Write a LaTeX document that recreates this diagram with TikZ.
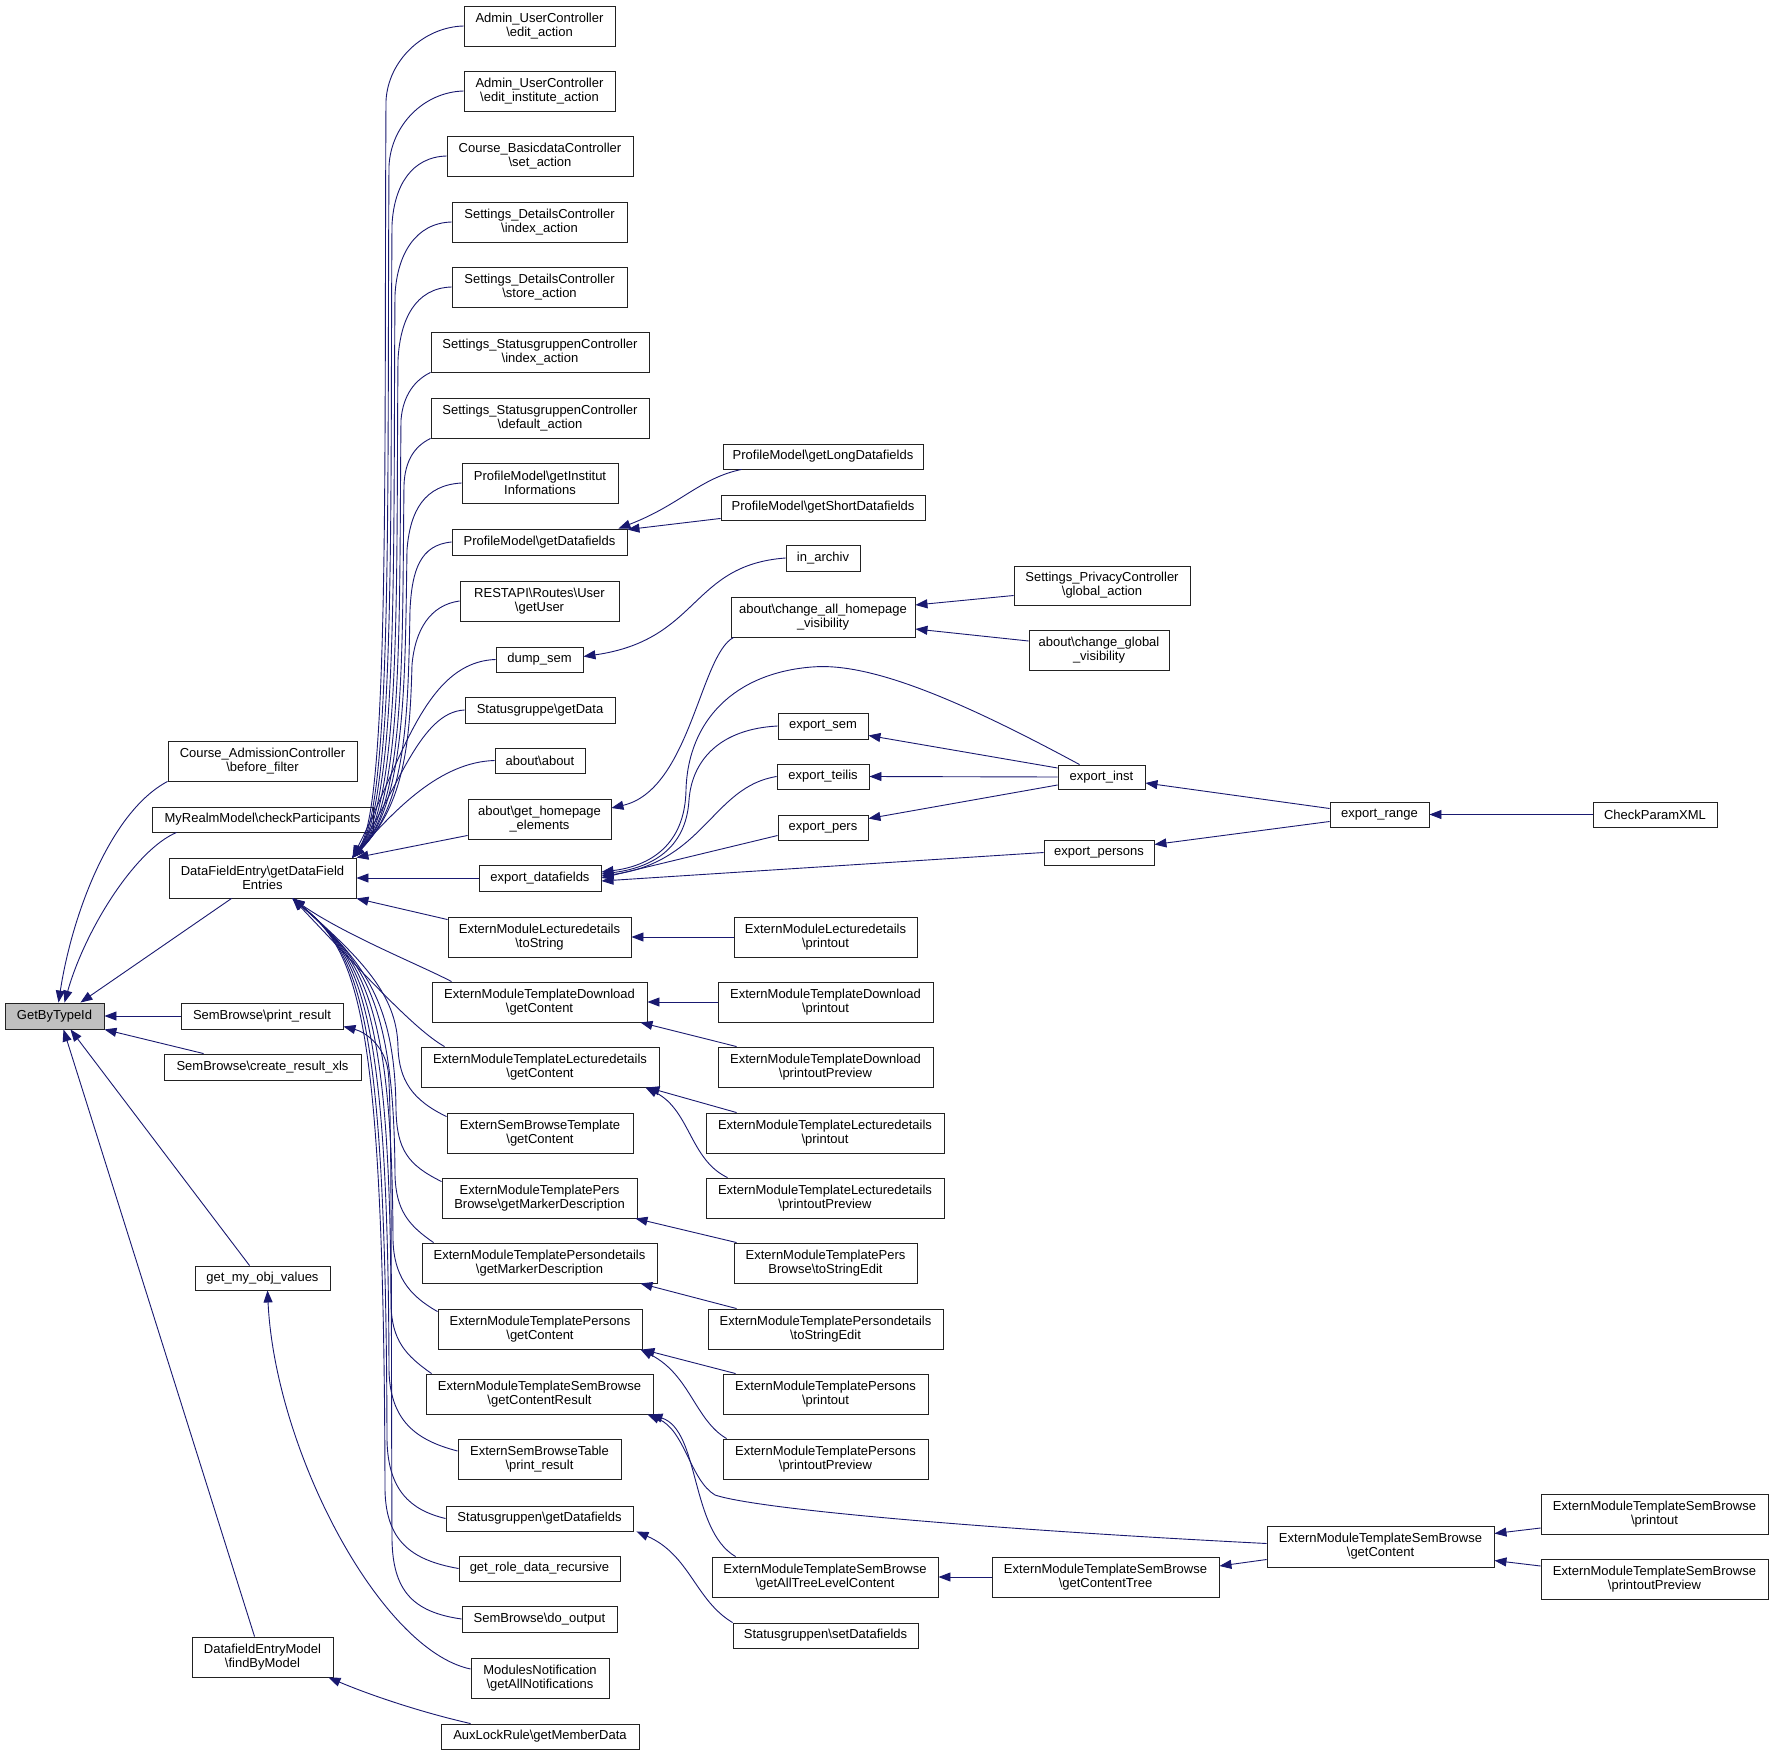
\documentclass[tikz,border=0pt]{standalone}
\usepackage{fontspec}
\setmainfont{Liberation Sans}
\usetikzlibrary{arrows.meta,calc}
\newcommand\bsl{\textbackslash}
\definecolor{edgecol}{HTML}{191970}
\definecolor{boxcol}{HTML}{222222}
\newcommand\mybox[6]{%
 \pgfmathsetmacro\bxw{#4-#2}\pgfmathsetmacro\bxh{#5-#3}%
 \pgfmathsetmacro\bxcx{(#2+#4)/2}\pgfmathsetmacro\bxcy{(#3+#5)/2}%
 \node[bx,minimum width=\bxw pt,minimum height=\bxh pt] (#1) at (\bxcx,\bxcy) {#6};}
\begin{document}
\begin{tikzpicture}[x=1pt,y=-1pt,
  bx/.style={draw=boxcol,line width=0.9pt,inner sep=0pt,align=center,fill=white,
    font=\fontsize{13}{14}\selectfont},
  ed/.style={draw=edgecol,line width=0.9pt,-{Triangle[length=12pt,width=9pt]}}]
\fill[white] (0,0) rectangle (1773,1755);
\useasboundingbox (0,0) rectangle (1773,1755);

% column 0
\node[bx,fill=gray!50,minimum width=99pt,minimum height=26pt] (G) at (54.5,1016) {GetByTypeId};
% column 1
\mybox{cadm}{168}{741}{357}{781}{Course\_AdmissionController\\\bsl before\_filter}
\mybox{myrealm}{152}{807}{373}{832}{MyRealmModel\bsl checkParticipants}
\mybox{dfe}{169}{858}{356}{898}{DataFieldEntry\bsl getDataField\\Entries}
\mybox{sbpr}{181}{1003}{343}{1029}{SemBrowse\bsl print\_result}
\mybox{sbxls}{164}{1054}{361}{1080}{SemBrowse\bsl create\_result\_xls}
\mybox{gmov}{195}{1266}{330}{1290}{get\_my\_obj\_values}
\mybox{dfem}{192}{1637}{333}{1677}{DatafieldEntryModel\\\bsl findByModel}
% column 2
\mybox{a1}{464}{6}{615}{46}{Admin\_UserController\\\bsl edit\_action}
\mybox{a2}{464}{71}{615}{111}{Admin\_UserController\\\bsl edit\_institute\_action}
\mybox{a3}{447}{136}{633}{176}{Course\_BasicdataController\\\bsl set\_action}
\mybox{a4}{452}{202}{627}{242}{Settings\_DetailsController\\\bsl index\_action}
\mybox{a5}{452}{267}{627}{307}{Settings\_DetailsController\\\bsl store\_action}
\mybox{a6}{431}{332}{649}{372}{Settings\_StatusgruppenController\\\bsl index\_action}
\mybox{a7}{431}{398}{649}{438}{Settings\_StatusgruppenController\\\bsl default\_action}
\mybox{a8}{462}{463}{618}{503}{ProfileModel\bsl getInstitut\\Informations}
\mybox{a9}{452}{529}{627}{555}{ProfileModel\bsl getDatafields}
\mybox{a10}{460}{581}{619}{621}{RESTAPI\bsl Routes\bsl User\\\bsl getUser}
\mybox{a11}{496}{647}{583}{672}{dump\_sem}
\mybox{a12}{465}{697}{615}{723}{Statusgruppe\bsl getData}
\mybox{a13}{495}{748}{585}{773}{about\bsl about}
\mybox{a14}{468}{799}{611}{839}{about\bsl get\_homepage\\\_elements}
\mybox{a15}{479}{865}{601}{891}{export\_datafields}
\mybox{a16}{448}{917}{631}{957}{ExternModuleLecturedetails\\\bsl toString}
\mybox{a17}{432}{982}{647}{1022}{ExternModuleTemplateDownload\\\bsl getContent}
\mybox{a18}{421}{1047}{659}{1087}{ExternModuleTemplateLecturedetails\\\bsl getContent}
\mybox{a19}{447}{1113}{633}{1153}{ExternSemBrowseTemplate\\\bsl getContent}
\mybox{a20}{442}{1178}{637}{1218}{ExternModuleTemplatePers\\Browse\bsl getMarkerDescription}
\mybox{a21}{422}{1243}{657}{1283}{ExternModuleTemplatePersondetails\\\bsl getMarkerDescription}
\mybox{a22}{438}{1309}{642}{1349}{ExternModuleTemplatePersons\\\bsl getContent}
\mybox{a23}{426}{1374}{653}{1414}{ExternModuleTemplateSemBrowse\\\bsl getContentResult}
\mybox{a24}{458}{1439}{621}{1479}{ExternSemBrowseTable\\\bsl print\_result}
\mybox{a25}{446}{1506}{633}{1531}{Statusgruppen\bsl getDatafields}
\mybox{a26}{459}{1556}{620}{1581}{get\_role\_data\_recursive}
\mybox{a27}{462}{1606}{617}{1632}{SemBrowse\bsl do\_output}
\mybox{a28}{471}{1658}{609}{1698}{ModulesNotification\\\bsl getAllNotifications}
\mybox{a29}{441}{1724}{639}{1749}{AuxLockRule\bsl getMemberData}
% column 3
\mybox{b1}{723}{444}{923}{469}{ProfileModel\bsl getLongDatafields}
\mybox{b2}{721}{495}{925}{520}{ProfileModel\bsl getShortDatafields}
\mybox{b3}{786}{545}{860}{571}{in\_archiv}
\mybox{b4}{731}{597}{915}{637}{about\bsl change\_all\_homepage\\\_visibility}
\mybox{b5}{778}{713}{868}{739}{export\_sem}
\mybox{b6}{777}{764}{869}{789}{export\_teilis}
\mybox{b7}{778}{815}{868}{840}{export\_pers}
\mybox{b8}{734}{917}{917}{957}{ExternModuleLecturedetails\\\bsl printout}
\mybox{b9}{718}{982}{933}{1022}{ExternModuleTemplateDownload\\\bsl printout}
\mybox{b10}{718}{1047}{933}{1087}{ExternModuleTemplateDownload\\\bsl printoutPreview}
\mybox{b11}{706}{1113}{944}{1153}{ExternModuleTemplateLecturedetails\\\bsl printout}
\mybox{b12}{706}{1178}{944}{1218}{ExternModuleTemplateLecturedetails\\\bsl printoutPreview}
\mybox{b13}{734}{1243}{917}{1283}{ExternModuleTemplatePers\\Browse\bsl toStringEdit}
\mybox{b14}{708}{1309}{943}{1349}{ExternModuleTemplatePersondetails\\\bsl toStringEdit}
\mybox{b15}{723}{1374}{928}{1414}{ExternModuleTemplatePersons\\\bsl printout}
\mybox{b16}{723}{1439}{928}{1479}{ExternModuleTemplatePersons\\\bsl printoutPreview}
\mybox{b17}{712}{1557}{938}{1597}{ExternModuleTemplateSemBrowse\\\bsl getAllTreeLevelContent}
\mybox{b18}{733}{1623}{918}{1648}{Statusgruppen\bsl setDatafields}
% column 4
\mybox{c1}{1014}{566}{1190}{605}{Settings\_PrivacyController\\\bsl global\_action}
\mybox{c2}{1029}{630}{1169}{670}{about\bsl change\_global\\\_visibility}
\mybox{c3}{1058}{765}{1145}{789}{export\_inst}
\mybox{c4}{1044}{840}{1154}{865}{export\_persons}
\mybox{c5}{992}{1557}{1219}{1597}{ExternModuleTemplateSemBrowse\\\bsl getContentTree}
% column 5
\mybox{d1}{1330}{802}{1429}{827}{export\_range}
\mybox{d2}{1267}{1526}{1494}{1567}{ExternModuleTemplateSemBrowse\\\bsl getContent}
% column 6
\mybox{e1}{1593}{802}{1717}{827}{CheckParamXML}
\mybox{e2}{1541}{1494}{1768}{1534}{ExternModuleTemplateSemBrowse\\\bsl printout}
\mybox{e3}{1541}{1559}{1768}{1599}{ExternModuleTemplateSemBrowse\\\bsl printoutPreview}

% ---------- edges into GetByTypeId
\draw[ed] (cadm.south west) .. controls (110,812) and (72,915) .. ($(G.north)+(4,0)$);
\draw[ed] ($(myrealm.south west)+(25,0)$) .. controls (135,850) and (85,930) .. ($(G.north)+(10,0)$);
\draw[ed] ($(dfe.south west)+(63,0)$) -- ($(G.north east)+(-24,0)$);
\draw[ed] (sbpr.west) -- (G.east);
\draw[ed] ($(sbxls.north west)+(40,0)$) -- (G.south east);
\draw[ed] ($(gmov.north west)+(55,0)$) -- ($(G.south)+(16,0)$);
\draw[ed] ($(dfem.north west)+(63,0)$) -- ($(G.south)+(9,0)$);

% ---------- edges into getDataFieldEntries (top)
\coordinate (E1) at ($(dfe.north east)+(-4,0)$);
\coordinate (E2) at ($(dfe.south)+(30,0)$);
\draw[ed] (a1.west) .. controls (424,27) and (388,60) .. (386,101) .. controls (384,450) and (390,805) .. (E1);
\draw[ed] (a2.west) .. controls (424,92) and (391,125) .. (389,166) .. controls (387,490) and (393,805) .. (E1);
\draw[ed] (a3.west) .. controls (412,157) and (394,185) .. (392,225) .. controls (390,520) and (396,805) .. (E1);
\draw[ed] (a4.west) .. controls (415,223) and (397,255) .. (395,295) .. controls (393,550) and (399,805) .. (E1);
\draw[ed] (a5.west) .. controls (415,288) and (400,320) .. (398,360) .. controls (396,580) and (402,805) .. (E1);
\draw[ed] (a6.south west) .. controls (415,380) and (403,395) .. (401,420) .. controls (399,620) and (404,805) .. (E1);
\draw[ed] (a7.south west) .. controls (415,446) and (405,460) .. (404,485) .. controls (402,650) and (406,805) .. (E1);
\draw[ed] (a8.west) .. controls (425,485) and (410,510) .. (407,550) .. controls (405,680) and (406,805) .. (E1);
\draw[ed] (a9.west) .. controls (420,545) and (412,570) .. (410,610) .. controls (408,720) and (406,805) .. (E1);
\draw[ed] (a10.west) .. controls (430,605) and (415,630) .. (412,665) .. controls (410,740) and (405,805) .. (E1);
\draw[ed] (a11.west) .. controls (425,662) and (402,760) .. (E1);
\draw[ed] (a12.west) .. controls (420,712) and (398,790) .. (E1);
\draw[ed] (a13.west) .. controls (440,762) and (395,810) .. (E1);
\draw[ed] ($(a14.south west)+(0,-4)$) -- (dfe.north east);
\draw[ed] (a15.west) -- (dfe.east);
\draw[ed] ($(a16.north west)+(0,3)$) -- (dfe.south east);
% ---------- edges into getDataFieldEntries (bottom)
\draw[ed] ($(a17.north west)+(20,0)$) .. controls (420,965) and (345,935) .. (E2);
\draw[ed] ($(a18.north west)+(24,0)$) .. controls (415,1030) and (365,975) .. (E2);
\draw[ed] ($(a19.north west)+(0,4)$) .. controls (412,1100) and (399,1080) .. (398,1047) .. controls (397,1000) and (370,965) .. (E2);
\draw[ed] ($(a20.north west)+(0,4)$) .. controls (408,1165) and (397,1150) .. (396,1110) .. controls (395,1010) and (370,965) .. (E2);
\draw[ed] ($(a21.north west)+(12,0)$) .. controls (408,1225) and (396,1210) .. (395,1175) .. controls (394,1010) and (368,962) .. (E2);
\draw[ed] ($(a22.north west)+(0,3)$) .. controls (408,1295) and (394,1275) .. (393,1240) .. controls (392,1010) and (366,960) .. (E2);
\draw[ed] ($(a23.north west)+(6,0)$) .. controls (405,1355) and (392,1340) .. (391,1305) .. controls (390,1010) and (364,958) .. (E2);
\draw[ed] ($(a24.west)+(0,-8)$) .. controls (415,1440) and (390,1420) .. (389,1370) .. controls (388,1010) and (362,956) .. (E2);
\draw[ed] (a25.west) .. controls (410,1510) and (388,1490) .. (387,1440) .. controls (386,1010) and (360,954) .. (E2);
\draw[ed] (a26.west) .. controls (410,1560) and (386,1540) .. (385,1490) .. controls (384,1010) and (358,952) .. (E2);
% other edges into column 1
\draw[ed] (a27.west) .. controls (412,1612) and (393,1590) .. (392,1540) .. controls (391,1300) and (392,1100) .. (388,1070) .. controls (384,1045) and (365,1032) .. ($(sbpr.south east)+(0,-3)$);
\draw[ed] ($(a28.west)+(0,-9)$) .. controls (380,1650) and (275,1450) .. ($(gmov.south)+(5,0)$);
\draw[ed] ($(a29.north west)+(30,0)$) .. controls (420,1712) and (370,1695) .. ($(dfem.south east)+(-5,0)$);

% ---------- column 3 -> column 2
\draw[ed] ($(b1.south west)+(19,0)$) .. controls (700,478) and (680,505) .. ($(a9.north east)+(-9,0)$);
\draw[ed] ($(b2.south west)+(0,-2)$) -- ($(a9.north east)+(0,1)$);
\draw[ed] (b3.west) .. controls (690,565) and (700,640) .. ($(a11.east)+(0,-3)$);
\draw[ed] ($(b4.south west)+(3,0)$) .. controls (700,655) and (690,790) .. ($(a14.east)+(0,-11)$);
\draw[ed] ($(c1.west)+(0,10)$) -- ($(b4.east)+(0,-12)$);
\draw[ed] ($(c2.west)+(0,-9)$) -- ($(b4.east)+(0,12)$);
\draw[ed] ($(c3.north west)+(22,0)$) .. controls (960,700) and (870,662) .. (812,667) .. controls (735,673) and (688,720) .. (686,790) .. controls (685,845) and (650,866) .. ($(a15.east)+(0,-6)$);
\draw[ed] (b5.west) .. controls (720,729) and (692,760) .. (689,800) .. controls (686,850) and (650,868) .. ($(a15.east)+(0,-4)$);
\draw[ed] (b6.west) .. controls (712,787) and (705,862) .. ($(a15.east)+(0,-2)$);
\draw[ed] ($(b7.west)+(0,8)$) -- (a15.east);
\draw[ed] (c4.west) -- ($(a15.east)+(0,3)$);
\draw[ed] ($(c3.west)+(0,-9)$) -- ($(b5.south east)+(0,-4)$);
\draw[ed] (c3.west) -- (b6.east);
\draw[ed] ($(c3.west)+(0,8)$) -- ($(b7.north east)+(0,4)$);
\draw[ed] ($(d1.west)+(0,-6)$) -- ($(c3.east)+(0,6)$);
\draw[ed] ($(d1.west)+(0,7)$) -- ($(c4.east)+(0,-8)$);
\draw[ed] (e1.west) -- (d1.east);
\draw[ed] (b8.west) -- (a16.east);
\draw[ed] (b9.west) -- (a17.east);
\draw[ed] ($(b10.north west)+(19,0)$) -- ($(a17.south east)+(-7,0)$);
\draw[ed] ($(b11.north west)+(31,0)$) -- ($(a18.south east)+(-12,0)$);
\draw[ed] ($(b12.north west)+(22,0)$) .. controls (690,1160) and (690,1110) .. ($(a18.south east)+(-14,0)$);
\draw[ed] ($(b13.north west)+(3,0)$) -- ($(a20.south east)+(-2,0)$);
\draw[ed] ($(b14.north west)+(29,0)$) -- ($(a21.south east)+(-17,0)$);
\draw[ed] ($(b15.north west)+(13,0)$) -- (a22.south east);
\draw[ed] ($(b16.north west)+(4,0)$) .. controls (695,1420) and (690,1375) .. ($(a22.south east)+(-2,0)$);
\draw[ed] ($(d2.west)+(0,-3)$) .. controls (1000,1530) and (760,1510) .. (715,1495) .. controls (690,1480) and (685,1430) .. ($(a23.south east)+(-6,0)$);
\draw[ed] ($(b17.north west)+(24,0)$) .. controls (690,1530) and (700,1430) .. ($(a23.south east)+(-3,0)$);
\draw[ed] (c5.west) -- (b17.east);
\draw[ed] ($(d2.west)+(0,13)$) -- ($(c5.east)+(0,-11)$);
\draw[ed] ($(e2.west)+(0,14)$) -- ($(d2.east)+(0,-13)$);
\draw[ed] ($(e3.west)+(0,-13)$) -- ($(d2.east)+(0,14)$);
\draw[ed] (b18.north west) .. controls (695,1600) and (690,1555) .. ($(a25.south east)+(3,0)$);
\end{tikzpicture}
\end{document}
